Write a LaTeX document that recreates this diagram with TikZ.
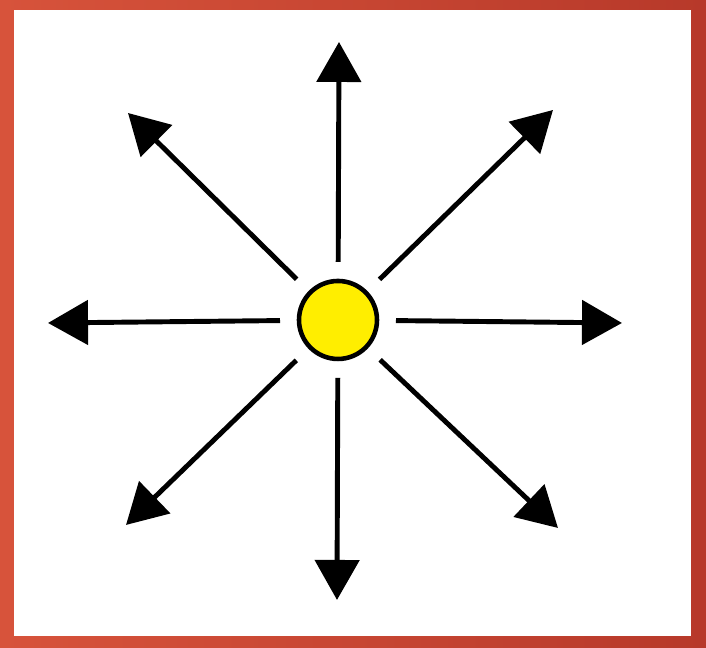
\documentclass[tikz,border=0pt]{standalone}
\usetikzlibrary{arrows.meta, positioning}
\definecolor{cframeA}{HTML}{D7533B}
\definecolor{cframeB}{HTML}{B7392A}
\definecolor{csun}{HTML}{FFEE00}
\tikzset{
  every picture/.style={line width=1.4pt},
  sun/.style={circle, draw=black, fill=csun, line width=1.3pt, outer sep=0pt, minimum size=0.78cm, inner sep=0pt},
  ray/.style={-{Triangle[length=0.4cm, width=0.44cm]}, draw=black, line width=1.4pt, shorten <=0.19cm},
}
\begin{document}
\begin{tikzpicture}
  % ---- frame ----
  \shade[left color=cframeA, right color=cframeB] (0,0) rectangle (7.06,6.48);
  \fill[white] (0.14,0.12) rectangle (6.91,6.38);
  \useasboundingbox (0,0) rectangle (7.06,6.48);
  % ---- sun and ray ends ----
  \node[sun] (s) at (3.38,3.28) {};
  \coordinate (n) at (3.39,6.06);
  \coordinate (so) at (3.37,0.48);
  \coordinate (w) at (0.48,3.25);
  \coordinate (e) at (6.22,3.25);
  \coordinate (nw) at (1.28,5.35);
  \coordinate (ne) at (5.53,5.38);
  \coordinate (sw) at (1.26,1.23);
  \coordinate (se) at (5.58,1.20);
  % ---- rays ----
  \draw[ray] (s) -- (n); \draw[ray] (s) -- (so);
  \draw[ray] (s) -- (w); \draw[ray] (s) -- (e);
  \draw[ray] (s) -- (nw); \draw[ray] (s) -- (ne);
  \draw[ray] (s) -- (sw); \draw[ray] (s) -- (se);
\end{tikzpicture}
\end{document}
